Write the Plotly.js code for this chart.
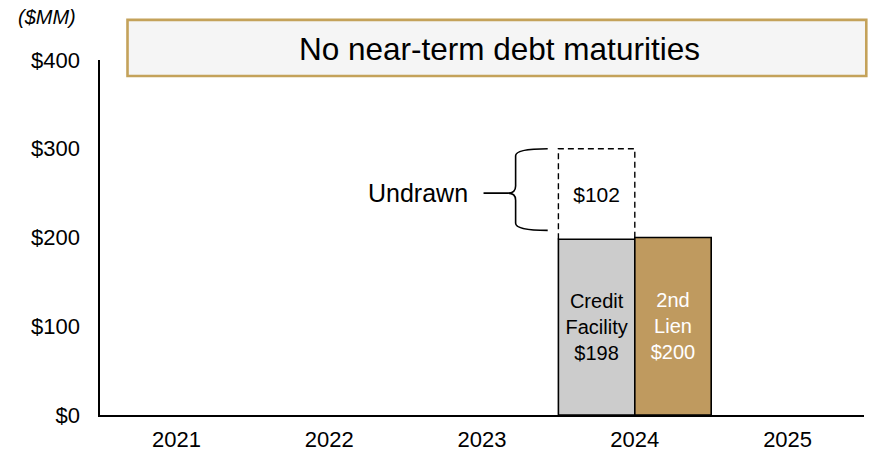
<!DOCTYPE html>
<html>
<head>
<meta charset="utf-8">
<script src="https://cdn.plot.ly/plotly-3.0.1.min.js"></script>
<style>html,body{margin:0;padding:0;background:#fff;}#chart{width:869px;height:455px;}</style>
</head>
<body>
<div id="chart"></div>
<script>
// ---- data ----
const years = ['2021', '2022', '2023', '2024', '2025'];
const creditFacility = [null, null, null, 198, null];
const undrawn = [null, null, null, 102, null];
const secondLien = [null, null, null, 200, null];
const yTicks = [0, 100, 200, 300, 400];
const unitLabel = '($MM)';
const bannerText = 'No near-term debt maturities';
const undrawnLabel = 'Undrawn';

const FONT = 'Liberation Sans, Arial, sans-serif';

function lbl(arr, fn) { return arr.map(v => (v == null ? '' : fn(v))); }

const traces = [
  {
    type: 'bar', x: years, y: creditFacility, offsetgroup: 'cf',
    marker: { color: '#cccccc', line: { color: '#000', width: 1.6 } },
    text: lbl(creditFacility, v => 'Credit<br>Facility<br>$' + v),
    textposition: 'inside', insidetextanchor: 'middle',
    textfont: { family: FONT, size: 20, color: '#000' },
    hoverinfo: 'skip'
  },
  {
    type: 'bar', x: years, y: undrawn, base: creditFacility, offsetgroup: 'cf',
    marker: { color: 'rgba(255,255,255,0)', line: { width: 0 } },
    text: lbl(undrawn, v => '$' + v),
    textposition: 'inside', insidetextanchor: 'middle',
    textfont: { family: FONT, size: 21, color: '#000' },
    hoverinfo: 'skip'
  },
  {
    type: 'bar', x: years, y: secondLien, offsetgroup: 'sl',
    marker: { color: '#bf9a5f', line: { color: '#000', width: 1.6 } },
    text: lbl(secondLien, v => '2nd<br>Lien<br>$' + v),
    textposition: 'inside', insidetextanchor: 'middle',
    textfont: { family: FONT, size: 20, color: '#fff' },
    hoverinfo: 'skip'
  }
];

// dashed outline + brace computed from data
const shapes = [];
const annotations = [];
const i = undrawn.findIndex(v => v != null);
const xl = i - 0.5, xr = i;
const lo = creditFacility[i], hi = creditFacility[i] + undrawn[i];
shapes.push({
  type: 'path', xref: 'x', yref: 'y',
  path: `M${xl},${lo} L${xl},${hi} L${xr},${hi} L${xr},${lo}`,
  line: { color: '#000', width: 1.4, dash: '6px,4px' }
});
// brace
const bTop = hi, bBot = lo + 10, bMid = (bTop + bBot) / 2 - 4;
const bx = xl - 0.28, be = xl - 0.07, tip = xl - 0.33, ls = xl - 0.49, c = 8;
shapes.push({
  type: 'path', xref: 'x', yref: 'y',
  path: `M${be},${bTop} Q${bx},${bTop} ${bx},${bTop - c} L${bx},${bMid + c} Q${bx},${bMid} ${tip},${bMid} ` +
        `Q${bx},${bMid} ${bx},${bMid - c} L${bx},${bBot + c} Q${bx},${bBot} ${be},${bBot} ` +
        `M${ls},${bMid} L${tip},${bMid}`,
  line: { color: '#000', width: 1.6 }
});
annotations.push({
  xref: 'x', yref: 'y', x: ls - 0.09, y: bMid, text: undrawnLabel, showarrow: false,
  xanchor: 'right', yanchor: 'middle', font: { family: FONT, size: 25, color: '#000' }
});

// banner
shapes.push({
  type: 'rect', xref: 'paper', yref: 'paper', x0: 0.036, x1: 1.003, y0: 0.955, y1: 1.113,
  fillcolor: '#f5f5f5', line: { color: '#c4a25a', width: 2.6 }, layer: 'above'
});
annotations.push({
  xref: 'paper', yref: 'paper', x: 0.523, y: 1.03, text: bannerText, showarrow: false,
  xanchor: 'center', yanchor: 'middle', font: { family: FONT, size: 31.5, color: '#000' }
});
annotations.push({
  xref: 'paper', yref: 'paper', x: -0.069, y: 1.121, text: '<i>' + unitLabel + '</i>', showarrow: false,
  xanchor: 'center', yanchor: 'middle', font: { family: FONT, size: 20, color: '#000' }
});

const layout = {
  width: 869, height: 455,
  margin: { l: 100, r: 5, t: 60, b: 40 },
  paper_bgcolor: '#fff', plot_bgcolor: '#fff',
  barmode: 'group', bargap: 0, bargroupgap: 0,
  showlegend: false,
  font: { family: FONT, color: '#000' },
  xaxis: {
    type: 'category', showline: true, linecolor: '#000', linewidth: 1.6,
    showgrid: false, zeroline: false, ticks: '', ticklabelstandoff: 4,
    tickfont: { family: FONT, size: 22, color: '#000' }, fixedrange: true
  },
  yaxis: {
    range: [0, 400], tickvals: yTicks, ticktext: yTicks.map(v => '$' + v),
    showline: true, linecolor: '#000', linewidth: 1.6, showgrid: false, zeroline: false,
    ticks: '', ticklabelstandoff: 14,
    tickfont: { family: FONT, size: 22, color: '#000' }, fixedrange: true
  },
  shapes: shapes, annotations: annotations
};

Plotly.newPlot('chart', traces, layout, { displayModeBar: false, staticPlot: true });
</script>
</body>
</html>
